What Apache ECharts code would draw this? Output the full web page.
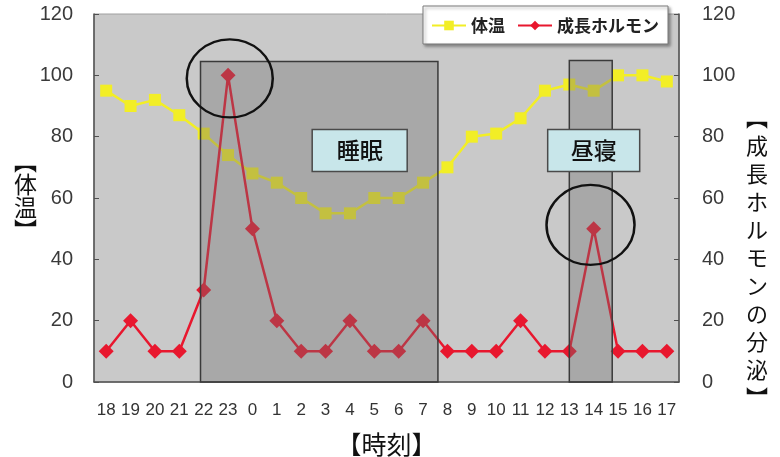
<!DOCTYPE html>
<html>
<head>
<meta charset="utf-8">
<script src="https://cdn.jsdelivr.net/npm/echarts@6/dist/echarts.min.js"></script>
<style>
  html, body { margin: 0; padding: 0; background: #ffffff; }
  #chart { width: 780px; height: 457px; }
</style>
</head>
<body>
<div id="chart"></div>
<script>
// Hours of the day, starting at 18:00
const hours = ['18','19','20','21','22','23','0','1','2','3','4','5','6','7','8','9','10','11','12','13','14','15','16','17'];
// Body temperature (relative scale)
const bodyTemp = [95, 90, 92, 87, 81, 74, 68, 65, 60, 55, 55, 60, 60, 65, 70, 80, 81, 86, 95, 97, 95, 100, 100, 98];
// Growth hormone secretion (relative scale)
const growthHormone = [10, 20, 10, 10, 30, 100, 50, 20, 10, 10, 20, 10, 10, 20, 10, 10, 10, 20, 10, 10, 50, 10, 10, 10];
// Axis ticks
const yTicks = [0, 20, 40, 60, 80, 100, 120];
// Period names
const periodNames = ['睡眠', '昼寝'];

const seriesNames = ['体温', '成長ホルモン'];
// Vertical axis titles (written top to bottom)
const leftTitle = ['︻', '体', '温', '︼'];
const rightTitle = ['︻', '成', '長', 'ホ', 'ル', 'モ', 'ン', 'の', '分', '泌', '︼'];

// Shaded periods on a 0..24 hour-slot scale (slot i spans [i, i+1])
const bands = [
  { from: 4.37, to: 14.11, top: 104.5, name: periodNames[0], boxX: 10.9, boxY: 75.5, boxW: 95, boxH: 42 },
  { from: 19.5, to: 21.26, top: 104.8, name: periodNames[1], boxX: 20.5, boxY: 75.5, boxW: 92, boxH: 42 }
];
// Highlight rings around the two hormone peaks
const rings = [
  { x: 5.57, y: 99.0, rx: 43, ry: 39 },
  { x: 20.37, y: 51.2, rx: 44, ry: 40 }
];

const chart = echarts.init(document.getElementById('chart'), null, { renderer: 'canvas' });

const axisFont = "'Liberation Sans', Arial, sans-serif";
const cjkFont = "'Noto Sans CJK JP', 'Noto Sans', sans-serif";

const option = {
  animation: false,
  backgroundColor: '#ffffff',
  grid: {
    left: 94, right: 101, top: 14, bottom: 75,
    outerBoundsMode: 'none', containLabel: false,
    show: true, backgroundColor: '#c9c9c9', borderColor: '#a0a0a0', borderWidth: 1
  },
  legend: {
    right: 112, top: 6,
    data: seriesNames,
    backgroundColor: '#ffffff',
    borderColor: '#7a7a7a', borderWidth: 1,
    shadowColor: 'rgba(0,0,0,0.35)', shadowBlur: 3, shadowOffsetX: 2, shadowOffsetY: 2,
    padding: [11, 9, 10, 8],
    itemGap: 12, itemWidth: 34, itemHeight: 12,
    textStyle: { fontFamily: cjkFont, fontSize: 17, fontWeight: 'bold', color: '#222' }
  },
  graphic: [
    {
      type: 'text', left: 14, top: 150, silent: true,
      style: {
        text: leftTitle.join('\n'), align: 'center',
        font: '23px ' + cjkFont, lineHeight: 23, fill: '#111'
      }
    },
    {
      type: 'text', left: 746, top: 104, silent: true,
      style: {
        text: rightTitle.join('\n'), align: 'center',
        font: '22px ' + cjkFont, lineHeight: 28, fill: '#111'
      }
    }
  ],
  xAxis: [
    {
      type: 'category', data: hours, boundaryGap: true,
      name: '【時刻】', nameLocation: 'middle', nameGap: 50,
      nameTextStyle: { fontFamily: cjkFont, fontSize: 25, color: '#111' },
      axisLine: { lineStyle: { color: '#505050', width: 1.5 } },
      axisTick: { inside: true, length: 5, alignWithLabel: false, lineStyle: { color: '#505050' } },
      axisLabel: { interval: 0, margin: 20, fontFamily: "'Liberation Sans Narrow', " + axisFont, fontSize: 17, color: '#333' }
    },
    { type: 'value', min: 0, max: 24, show: false }
  ],
  yAxis: [
    {
      type: 'value', min: yTicks[0], max: yTicks[yTicks.length - 1], interval: 20,
      axisLine: { show: true, lineStyle: { color: '#505050', width: 1.5 } },
      axisTick: { show: true, inside: true, length: 5, lineStyle: { color: '#505050' } },
      axisLabel: { margin: 21, fontFamily: axisFont, fontSize: 20, color: '#3a3a3a' },
      splitLine: { show: false }
    },
    {
      type: 'value', min: yTicks[0], max: yTicks[yTicks.length - 1], interval: 20, position: 'right',
      axisLine: { show: true, lineStyle: { color: '#505050', width: 1.5 } },
      axisTick: { show: true, inside: true, length: 5, lineStyle: { color: '#505050' } },
      axisLabel: { margin: 23, fontFamily: axisFont, fontSize: 20, color: '#3a3a3a' },
      splitLine: { show: false }
    }
  ],
  series: [
    {
      name: seriesNames[0], type: 'line', data: bodyTemp, yAxisIndex: 0, z: 2,
      symbol: 'rect', symbolSize: 12,
      lineStyle: { color: '#f2ee26', width: 2.5 },
      itemStyle: { color: '#f2ee26' }
    },
    {
      name: seriesNames[1], type: 'line', data: growthHormone, yAxisIndex: 1, z: 2,
      symbol: 'diamond', symbolSize: 15,
      lineStyle: { color: '#e8172e', width: 2.5 },
      itemStyle: { color: '#e8172e' }
    },
    {
      // Translucent shading over the sleep / nap periods
      type: 'custom', xAxisIndex: 1, yAxisIndex: 0, z: 3, silent: true,
      data: bands.map((b, i) => [i]),
      renderItem: function (params, api) {
        const b = bands[params.dataIndex];
        const p0 = api.coord([b.from, b.top]);
        const p1 = api.coord([b.to, 0]);
        return {
          type: 'rect',
          shape: { x: p0[0], y: p0[1], width: p1[0] - p0[0], height: p1[1] - p0[1] },
          style: { fill: 'rgba(110,110,110,0.36)', stroke: '#3a3a3a', lineWidth: 1.5 }
        };
      }
    },
    {
      // Period name boxes
      type: 'custom', xAxisIndex: 1, yAxisIndex: 0, z: 4, silent: true,
      data: bands.map((b, i) => [i]),
      renderItem: function (params, api) {
        const b = bands[params.dataIndex];
        const c = api.coord([b.boxX, b.boxY]);
        return {
          type: 'group',
          children: [
            {
              type: 'rect',
              shape: { x: c[0] - b.boxW / 2, y: c[1] - b.boxH / 2, width: b.boxW, height: b.boxH },
              style: { fill: '#c8e6ea', stroke: '#4a4a4a', lineWidth: 1.5 }
            },
            {
              type: 'text',
              style: {
                x: c[0], y: c[1], text: b.name, align: 'center', verticalAlign: 'middle',
                font: '500 23px ' + cjkFont, fill: '#111'
              }
            }
          ]
        };
      }
    },
    {
      // Rings marking the hormone peaks
      type: 'custom', xAxisIndex: 1, yAxisIndex: 0, z: 5, silent: true,
      data: rings.map((r, i) => [i]),
      renderItem: function (params, api) {
        const r = rings[params.dataIndex];
        const c = api.coord([r.x, r.y]);
        return {
          type: 'circle',
          x: c[0], y: c[1],
          scaleX: 1, scaleY: r.ry / r.rx,
          shape: { cx: 0, cy: 0, r: r.rx },
          style: { fill: 'none', stroke: '#111', lineWidth: 2.5, strokeNoScale: true }
        };
      }
    }
  ]
};

chart.setOption(option);
</script>
</body>
</html>
